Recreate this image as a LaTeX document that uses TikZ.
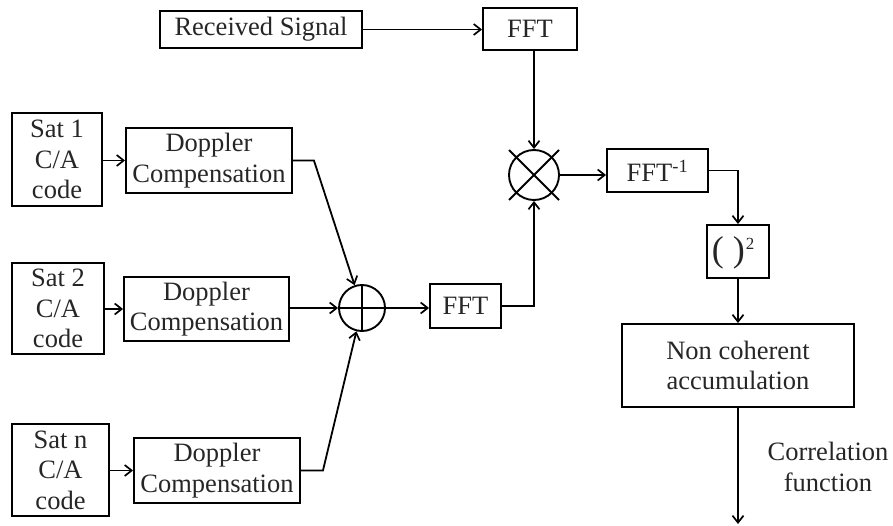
\documentclass[tikz,border=0pt]{standalone}
\usepackage{fontspec}
\setmainfont{Liberation Serif}
\usetikzlibrary{arrows.meta}
\begin{document}
\begin{tikzpicture}[x=1pt,y=-1pt,
  line width=1.8pt,
  blk/.style={draw, line width=1.9pt, inner sep=0pt, align=center, text=black!85,
    font=\fontsize{26.5}{30.5}\selectfont},
  lbl/.style={inner sep=0pt, align=center, text=black!85, font=\fontsize{26.5}{30.5}\selectfont},
  arr/.style={-{Straight Barb[length=7pt,width=11pt,line width=1.7pt]}},
  ring/.style={draw, circle, line width=1.9pt, inner sep=0pt}]
\useasboundingbox (0,0) rectangle (893,526);

% top row
\node[blk, minimum width=202pt, minimum height=37pt] (rs) at (261,29.5) {Received Signal};
\node[blk, minimum width=94pt, minimum height=42pt] (fft1) at (530,29) {FFT};

% satellites
\node[blk, minimum width=90pt, minimum height=93pt] (sat1) at (57,159.5) {Sat 1\\C/A\\code};
\node[blk, minimum width=166pt, minimum height=65pt] (dop1) at (209,160.5) {Doppler\\Compensation};
\node[blk, minimum width=92pt, minimum height=91pt] (sat2) at (58,308.5) {Sat 2\\C/A\\code};
\node[blk, minimum width=165pt, minimum height=64pt] (dop2) at (206.5,309) {Doppler\\Compensation};
\node[blk, minimum width=97pt, minimum height=92pt] (satn) at (60.5,470) {Sat n\\C/A\\code};
\node[blk, minimum width=166pt, minimum height=65pt] (dopn) at (217,470.5) {Doppler\\Compensation};

% adder
\node[ring, minimum size=46pt] (add) at (362,308) {};
\draw[line width=1.9pt] (add.north) -- (add.south) (add.west) -- (add.east);

% middle FFT
\node[blk, minimum width=71pt, minimum height=44pt] (fft2) at (465.5,306) {FFT};

% multiplier
\node[ring, minimum size=50pt] (mul) at (534,175) {};
\draw[line width=1.9pt] (509,150) -- (559,200) (509,200) -- (559,150);

% right column
\node[blk, minimum width=101pt, minimum height=43pt] (ffti) at (657.5,170.5) {FFT\textsuperscript{-1}};
\node[blk, minimum width=62pt, minimum height=53pt] (sq) at (738,251.5) {};
\node[lbl, font=\fontsize{36}{36}\selectfont, anchor=center] (sqtxt) at (733,253) {(\kern9pt)\kern1pt\raisebox{12pt}{\fontsize{17}{17}\selectfont 2}};
\node[blk, minimum width=232pt, minimum height=83pt] (nc) at (738,365.5) {Non coherent\\accumulation};
\coordinate (out) at (738,524);
\node[lbl] (corr) at (828,467) {Correlation\\function};

% connectors
\draw[arr] (rs.east) -- (rs.east -| fft1.west);
\draw[arr] (fft1.south -| mul.north) -- (mul.north);

\draw[arr] (sat1.east |- dop1.west) -- (dop1.west);
\draw[arr] (sat2.east |- dop2.west) -- (dop2.west);
\draw[arr] (satn.east |- dopn.west) -- (dopn.west);

\draw[arr] (dop1.east) -- ++(21,0) -- (add);
\draw[arr] (dop2.east |- add.west) -- (add.west);
\draw[arr] (dopn.east) -- ++(22,0) -- (add);

\draw[arr] (add.east) -- (add.east -| fft2.west);
\draw[arr] (fft2.east) -- (fft2.east -| mul.south) -- (mul.south);
\draw[arr] (mul.east) -- (mul.east -| ffti.west);
\draw[arr] (ffti.east) -- (ffti.east -| sq.north) -- (sq.north);
\draw[arr] (sq.south) -- (nc.north);
\draw[arr] (nc.south) -- (out);
\end{tikzpicture}
\end{document}
